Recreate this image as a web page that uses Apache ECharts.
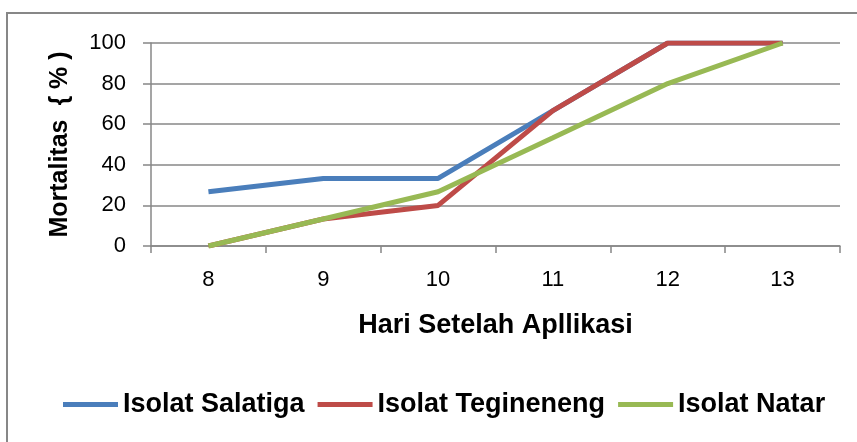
<!DOCTYPE html>
<html>
<head>
<meta charset="utf-8">
<script src="https://cdn.jsdelivr.net/npm/echarts@6/dist/echarts.min.js"></script>
<style>
  html, body { margin: 0; padding: 0; background: #fff; }
  #chart { width: 857px; height: 442px; }
</style>
</head>
<body>
<div id="chart"></div>
<script>
var days = ["8", "9", "10", "11", "12", "13"];
var salatiga = [26.7, 33.3, 33.3, 66.7, 100, 100];
var tegineneng = [0, 13.3, 20, 66.7, 100, 100];
var natar = [0, 13.3, 26.7, 53.3, 80, 100];

var chart = echarts.init(document.getElementById("chart"), null, { renderer: "canvas" });

var font = "Liberation Sans";
var grey = "#878787";

var option = {
  animation: false,
  color: ["#4A7EBB", "#BE4B48", "#98B954"],
  graphic: [
    {
      type: "rect",
      shape: { x: 7, y: 13, width: 900, height: 500 },
      style: { fill: null, stroke: grey, lineWidth: 2 },
      silent: true
    }
  ],
  grid: { left: 151, right: 17, top: 43, bottom: 196 },
  legend: {
    top: 386,
    left: 58,
    icon: "rect",
    itemWidth: 55,
    itemHeight: 5,
    itemGap: 13,
    textStyle: { fontFamily: font, fontWeight: "bold", fontSize: 27, color: "#000" },
    data: ["Isolat Salatiga", "Isolat Tegineneng", "Isolat Natar"]
  },
  xAxis: {
    type: "category",
    data: days,
    boundaryGap: true,
    name: "Hari Setelah Apllikasi",
    nameLocation: "middle",
    nameGap: 66,
    nameTextStyle: { fontFamily: font, fontWeight: "bold", fontSize: 27, color: "#000" },
    axisLine: { lineStyle: { color: grey, width: 1.5 } },
    axisTick: { show: true, length: 7, lineStyle: { color: grey, width: 1.5 } },
    axisLabel: { fontFamily: font, fontSize: 22, color: "#000", margin: 23 }
  },
  yAxis: {
    type: "value",
    min: 0,
    max: 100,
    interval: 20,
    name: "Mortalitas  { % )",
    nameLocation: "middle",
    nameGap: 78,
    nameRotate: 90,
    nameTextStyle: { fontFamily: font, fontWeight: "bold", fontSize: 25, color: "#000" },
    axisLine: { show: true, lineStyle: { color: grey, width: 1.5 } },
    axisTick: { show: true, length: 8, lineStyle: { color: grey, width: 1.5 } },
    axisLabel: { fontFamily: font, fontSize: 22, color: "#000", margin: 25 },
    splitLine: { lineStyle: { color: grey, width: 1.5 } }
  },
  series: [
    { name: "Isolat Salatiga", type: "line", data: salatiga, showSymbol: false, lineStyle: { width: 5 } },
    { name: "Isolat Tegineneng", type: "line", data: tegineneng, showSymbol: false, lineStyle: { width: 5 } },
    { name: "Isolat Natar", type: "line", data: natar, showSymbol: false, lineStyle: { width: 5 } }
  ]
};

chart.setOption(option);
</script>
</body>
</html>
